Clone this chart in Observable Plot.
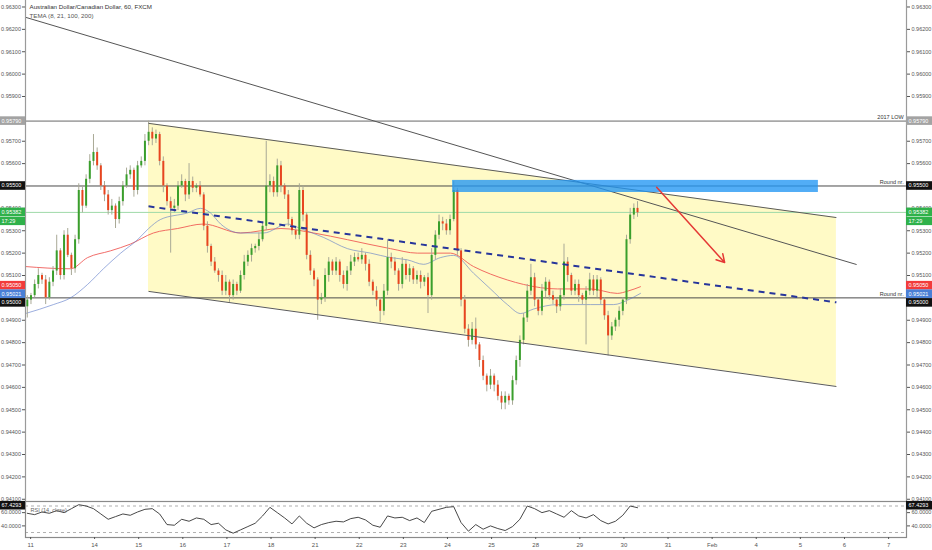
<!DOCTYPE html>
<html><head><meta charset="utf-8">
<script src="https://cdn.jsdelivr.net/npm/d3@7"></script>
<script src="https://cdn.jsdelivr.net/npm/@observablehq/plot@0.6"></script>
<style>
body{margin:0;background:#fff;font-family:"Liberation Sans",Arial,sans-serif}
#wrap svg{display:block}
</style></head><body><div id="wrap"></div>
<script>
// ---- data (2-hour candles) ----
const firstOpen = 0.9496;
const closes = [
0.9499,0.9501,0.9506,0.9510,0.9508,0.9500,0.9507,0.9512,0.9521,0.9510,
0.9528,0.9519,0.9513,0.9526,0.9548,0.9541,0.9553,0.9561,0.9565,0.9559,
0.9550,0.9546,0.9539,0.9541,0.9535,0.9543,0.9550,0.9555,0.9557,0.9548,
0.9559,0.9561,0.9570,0.9574,0.9571,0.9573,0.9561,0.9550,0.9543,0.9540,
0.9541,0.9550,0.9552,0.9546,0.9552,0.9549,0.9550,0.9546,0.9532,0.9523,
0.9516,0.9512,0.9510,0.9503,0.9507,0.9501,0.9506,0.9503,0.9510,0.9516,
0.9519,0.9522,0.9523,0.9526,0.9532,0.9550,0.9552,0.9547,0.9559,0.9550,
0.9546,0.9535,0.9530,0.9528,0.9548,0.9537,0.9519,0.9512,0.9508,0.9499,
0.9500,0.9510,0.9516,0.9512,0.9516,0.9510,0.9506,0.9512,0.9516,0.9518,
0.9517,0.9519,0.9515,0.9507,0.9503,0.9499,0.9494,0.9503,0.9518,0.9516,
0.9512,0.9506,0.9515,0.9510,0.9513,0.9508,0.9510,0.9507,0.9509,0.9501,
0.9519,0.9528,0.9534,0.9533,0.9530,0.9535,0.9548,0.9521,0.9499,0.9486,
0.9481,0.9486,0.9479,0.9472,0.9465,0.9461,0.9465,0.9461,0.9456,0.9453,
0.9456,0.9454,0.9463,0.9472,0.9481,0.9491,0.9503,0.9509,0.9499,0.9494,
0.9503,0.9507,0.9501,0.9499,0.9496,0.9501,0.9516,0.9510,0.9503,0.9506,
0.9501,0.9499,0.9503,0.9508,0.9503,0.9508,0.9499,0.9492,0.9483,0.9487,
0.9490,0.9494,0.9499,0.9526,0.9537,0.9540,0.9538];
// wick lengths in pips (0.0001)
const upWick = [
2,1,2,3,1,2,2,2,7,1, 2,3,1,2,3,2,2,3,8,2, 1,2,2,3,1,2,2,3,2,1, 2,2,3,5,2,2,1,2,1,2,
3,2,3,1,8,2,1,2,1,2, 1,2,1,2,3,1,2,1,2,3, 2,2,1,3,2,20,3,2,3,2, 1,2,1,2,3,2,1,2,1,1,
2,3,2,1,2,1,2,2,3,2, 2,3,1,2,1,2,1,3,8,2, 2,1,3,2,2,1,2,2,1,2, 3,2,3,2,2,2,4,1,1,2,
2,3,5,1,2,1,3,1,2,2, 2,1,2,2,2,2,3,6,2,1, 3,2,1,2,1,3,8,2,1,2, 2,1,2,3,2,2,1,1,2,2,
1,2,1,2,3,2,3];
const dnWick = [
5,2,1,2,2,3,1,2,2,2, 2,1,3,2,2,3,1,2,2,2, 2,3,2,2,4,2,2,1,2,3, 2,1,2,2,3,2,2,3,2,20,
2,2,1,3,2,2,2,1,2,3, 2,1,3,2,2,3,2,2,1,2, 2,3,2,2,1,2,3,2,2,3, 2,3,2,2,2,3,2,2,3,9,
2,2,3,2,2,3,2,3,2,2, 1,2,3,2,2,3,5,2,2,3, 2,3,2,2,3,2,2,3,2,8, 2,2,2,3,2,2,1,2,3,2,
3,2,2,3,2,3,2,3,2,3, 3,2,2,2,3,2,2,2,3,2, 2,3,2,2,3,2,2,3,2,2, 3,2,20,2,2,3,2,2,9,2,
2,3,2,2,2,2,2];
// moving averages (x in candle index)
const redIdx = [-0.5,11.75,16.4,22.6,28,34.3,40.9,47.9,58,69,77.9,87.1,98.8,106.1,115.1,121.4,130.6,135,144.2,153.2,160.5,163.3,166.8];
const redVal = [0.9514,0.9513,0.9518,0.9521,0.9524,0.9529,0.9531,0.9533,0.9529,0.9531,0.9529,0.9526,0.9522,0.9520,0.9520,0.9514,0.9508,0.9506,0.9504,0.9504,0.9502,0.9503,0.9505];
const blueIdx = [-0.5,7.1,11.75,16.4,20.7,25.4,30,33,36.2,43.6,47.1,49.8,52.6,58,64.3,70.8,74.3,80.6,87.1,93.4,98.8,103.4,107.8,112.4,116,121.4,126,130.6,134.2,137.7,144.2,153.2,159.5,163.3,166.8];
const blueVal = [0.9493,0.9497,0.9500,0.9506,0.9513,0.9520,0.9526,0.9531,0.9535,0.9538,0.9540,0.9538,0.9533,0.9529,0.9529,0.9533,0.9531,0.9527,0.9522,0.9520,0.9518,0.9517,0.9515,0.9518,0.9519,0.9511,0.9504,0.9497,0.9493,0.9495,0.9497,0.9497,0.9497,0.9499,0.9502];
// RSI(14) every 2 candles
const rsiVals = [59,57,61,59,63,60,66,72,70,66, 58,50,54,58,56,61,65,66,58,42,
41,50,47,52,50,42,44,34,29,34, 39,44,55,68,60,52,43,55,44,37,
42,45,47,46,51,53,49,41,38,55, 52,53,48,52,45,62,65,68,69,45,
32,42,35,40,36,33,39,50,70,66, 60,63,58,53,63,55,52,57,48,43,
47,56,70,67.43];
// drawings
const channelIdx = [32.97, 220.1];
const channelTop = [0.9578, 0.95359];
const channelBot = [0.95029, 0.94604];
const channelMid = [0.95409, 0.94980];
const trendIdx = [-0.49, 225.6];
const trendVal = [0.96254, 0.95149];
const zoneIdx = [115.7, 215.2];
const zoneVal = [0.95471, 0.95525];
const arrowIdx = [171.2, 189.7];
const arrowVal = [0.95494, 0.95158];
const levels = {low2017: 0.9579, round1: 0.955, round2: 0.95, last: 0.95382};
// axes (ticks hidden behind the value tags are left out)
const yTicks = [0.941,0.942,0.943,0.944,0.945,0.946,0.947,0.948,0.949,0.951,0.952,0.953,0.954,0.956,0.957,0.959,0.960,0.961,0.962,0.963];
const dayTickIdx = [0.9,18.3,30.3,42.3,54.3,66.3,78.3,90.3,102.3,114.3,126.3,138.3,150.3,162.3,174.3,186.3,198.3,210.3,222.3,234.3];
const dayLabels = ["11","14","15","16","17","18","21","22","23","24","25","28","29","30","31","Feb","4","5","6","7"];
const tagValues = [0.9579, 0.955, 0.95382, 0.9505, 0.95021, 0.95];
const tagLabels = ["0.95790","0.95500","0.95382","0.95050","0.95021","0.95000"];
const rsiLast = 67.4293;

// ---- build ----
const xDomain = [-0.49, 239.17];
const candles = closes.map((c, i) => {
  const o = i === 0 ? firstOpen : closes[i - 1];
  return {i, o, c, up: c >= o,
    hi: Math.max(o, c) + upWick[i] * 1e-4,
    lo: Math.min(o, c) - dnWick[i] * 1e-4};
});
const red = redIdx.map((x, k) => ({x, y: redVal[k]}));
const blue = blueIdx.map((x, k) => ({x, y: blueVal[k]}));
const font = "Liberation Sans, Arial, sans-serif";
const GREEN = "#3a9f2c", RED = "#e8451f";

const main = Plot.plot({
  width: 932, height: 501, marginLeft: 25, marginRight: 26, marginTop: 0, marginBottom: 0,
  style: {fontFamily: font, fontSize: "5.5px", color: "#555", background: "#fff", overflow: "visible"},
  x: {domain: xDomain, axis: null},
  y: {domain: [0.9409, 0.96329], axis: null},
  marks: [
    Plot.areaY([{x: channelIdx[0], a: channelBot[0], b: channelTop[0]}, {x: channelIdx[1], a: channelBot[1], b: channelTop[1]}],
      {x: "x", y1: "a", y2: "b", fill: "#fffac6"}),
    Plot.ruleY([levels.low2017], {stroke: "#a8a8a8", strokeWidth: 1.6}),
    Plot.ruleY([levels.round1, levels.round2], {stroke: "#4a4a4a", strokeWidth: 1}),
    Plot.ruleY([levels.last], {stroke: "#9ed9a8", strokeWidth: 1}),
    Plot.line(red, {x: "x", y: "y", stroke: "#ef5350", strokeOpacity: 0.85, strokeWidth: 1, curve: "monotone-x", clip: true}),
    Plot.line(blue, {x: "x", y: "y", stroke: "#5a78c8", strokeOpacity: 0.6, strokeWidth: 1, curve: "monotone-x", clip: true}),
    Plot.ruleX(candles, {x: "i", y1: "lo", y2: "hi", stroke: "#a9a996", strokeWidth: 1}),
    Plot.ruleX(candles.filter(d => d.up), {x: "i", y1: "o", y2: "c", stroke: GREEN, strokeWidth: 2}),
    Plot.ruleX(candles.filter(d => !d.up), {x: "i", y1: "o", y2: "c", stroke: RED, strokeWidth: 2}),
    Plot.link([0], {x1: () => channelIdx[0], x2: () => channelIdx[1], y1: () => channelMid[0], y2: () => channelMid[1], stroke: "#27359b", strokeWidth: 2, strokeDasharray: "6,5"}),
    Plot.link([0, 1], {x1: () => channelIdx[0], x2: () => channelIdx[1], y1: (d) => d ? channelBot[0] : channelTop[0], y2: (d) => d ? channelBot[1] : channelTop[1], stroke: "#5a5a5a", strokeWidth: 1}),
    Plot.link([0], {x1: () => trendIdx[0], x2: () => trendIdx[1], y1: () => trendVal[0], y2: () => trendVal[1], stroke: "#555", strokeWidth: 1}),
    Plot.rect([0], {x1: () => zoneIdx[0], x2: () => zoneIdx[1], y1: () => zoneVal[0], y2: () => zoneVal[1], fill: "#2196f3", fillOpacity: 0.78}),
    Plot.arrow([0], {x1: () => arrowIdx[0], x2: () => arrowIdx[1], y1: () => arrowVal[0], y2: () => arrowVal[1], stroke: "#e53935", strokeWidth: 1.5, headLength: 9, bend: 0}),
    Plot.text(["2017 LOW"], {x: 238.4, y: levels.low2017, dy: -4, textAnchor: "end", fill: "#333", fontSize: 5.5}),
    Plot.text(["Round nr."], {x: 238.4, y: levels.round1, dy: -4, textAnchor: "end", fill: "#333", fontSize: 5.5}),
    Plot.text(["Round nr."], {x: 238.4, y: levels.round2, dy: -4, textAnchor: "end", fill: "#333", fontSize: 5.5}),
    Plot.text(["Australian Dollar/Canadian Dollar, 60, FXCM"], {frameAnchor: "top-left", dx: 4, dy: 7, lineAnchor: "middle", fill: "#333", fontSize: 6.2}),
    Plot.text(["TEMA (8, 21, 100, 200)"], {frameAnchor: "top-left", dx: 4, dy: 16, lineAnchor: "middle", fill: "#555", fontSize: 6.2}),
    Plot.ruleX([xDomain[0], xDomain[1]], {stroke: "#9a9a9a", strokeWidth: 1.2}),
    Plot.axisY({anchor: "right", label: null, ticks: yTicks, tickFormat: ".5f", tickSize: 3, tickPadding: 2, fontSize: 5.5}),
    Plot.axisY({anchor: "left", label: null, ticks: yTicks, tickFormat: ".5f", tickSize: 3, tickPadding: 1.5, fontSize: 5.5})
  ]
});

const labelMap = new Map(dayTickIdx.map((d, k) => [d, dayLabels[k]]));
const rsiPts = rsiVals.map((v, k) => ({i: k * 2, v}));
const rsiPlot = Plot.plot({
  width: 932, height: 49, marginLeft: 25, marginRight: 26, marginTop: 0, marginBottom: 13,
  style: {fontFamily: font, fontSize: "5.5px", color: "#555", background: "#fff", overflow: "visible"},
  x: {domain: xDomain, axis: null},
  y: {domain: [22.5, 76.8], axis: null},
  marks: [
    Plot.ruleY([70, 30], {stroke: "#9a9a9a", strokeDasharray: "3,3", strokeWidth: 0.8}),
    Plot.line(rsiPts, {x: "i", y: "v", stroke: "#333", strokeWidth: 0.9}),
    Plot.text(["RSI (14, close)"], {frameAnchor: "top-left", dx: 5, dy: 9, lineAnchor: "middle", fill: "#666", fontSize: 5.5}),
    Plot.frame({stroke: "#8a8a8a", strokeWidth: 1.2}),
    Plot.axisY({anchor: "right", label: null, ticks: [40, 60], tickFormat: ".4f", tickSize: 3, tickPadding: 2, fontSize: 5.5}),
    Plot.axisY({anchor: "left", label: null, ticks: [40, 60], tickFormat: ".4f", tickSize: 3, tickPadding: 1.5, fontSize: 5.5}),
    Plot.axisX({label: null, ticks: dayTickIdx, tickFormat: d => labelMap.get(d), tickSize: 2, tickPadding: 3, fontSize: 6})
  ]
});

const wrap = document.getElementById("wrap");
wrap.append(main, rsiPlot);

// value tags on both axes, positioned with the plots' own y scales
function yScale(plot, domain, range) {
  try { const s = plot.scale("y"); if (s && s.apply) return v => s.apply(v); } catch (e) {}
  const s = d3.scaleLinear(domain, range); return v => s(v);
}
const ym = yScale(main, [0.9409, 0.96329], [501, 0]);
const yr = yScale(rsiPlot, [22.5, 76.8], [36, 0]);
function tag(svg, y, text, fill, h = 8.6) {
  const g = d3.select(svg).append("g").attr("font-family", font).attr("font-size", 5.5).attr("text-anchor", "start");
  [[906, 26, 908.5], [0, 25, 1.5]].forEach(([x, w, tx]) => {
    g.append("rect").attr("x", x).attr("y", y - h / 2).attr("width", w).attr("height", h).attr("fill", fill);
    g.append("text").attr("x", tx).attr("y", y).attr("dy", "0.35em").attr("fill", "#fff").text(text);
  });
}
const tagFill = ["#a3a3a3", "#111", "#2fb14a", "#f23b3b", "#4a7fd6", "#111"];
const tagShift = [0, 0, 0, -1, 1, 5];
tagValues.forEach((v, k) => tag(main, ym(v) + tagShift[k], tagLabels[k], tagFill[k]));
tag(main, ym(tagValues[2]) + 9, "17:29", "#2fb14a", 8.4);
tag(rsiPlot, yr(rsiLast) - 2, rsiLast.toFixed(4), "#111");
</script></body></html>
